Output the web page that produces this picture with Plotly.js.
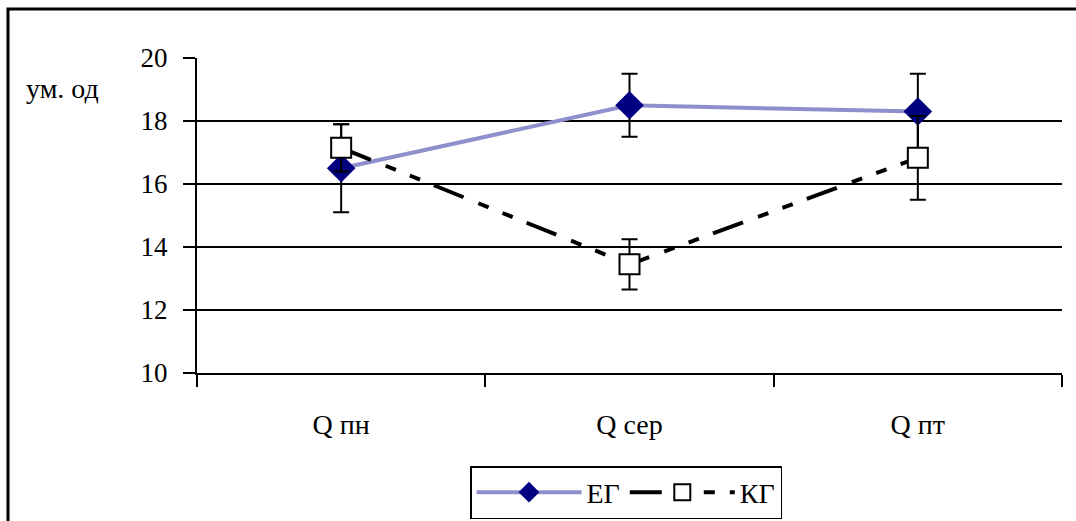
<!DOCTYPE html>
<html>
<head>
<meta charset="utf-8">
<script src="https://cdn.plot.ly/plotly-3.0.1.min.js"></script>
<style>html,body{margin:0;padding:0;background:#fff;}#chart{width:1076px;height:521px;}</style>
</head>
<body>
<div id="chart"></div>
<script>
var categories = ["Q пн", "Q сер", "Q пт"];
var egValues = [16.5, 18.5, 18.3];
var egErrors = [1.4, 1.0, 1.2];
var kgValues = [17.15, 13.45, 16.83];
var kgErrors = [0.75, 0.8, 1.33];
var yTickVals = [10, 12, 14, 16, 18, 20];

var FONTFAM = "Times New Roman";

var traces = [
  {
    x: categories, y: egValues, name: "ЕГ", type: "scatter", mode: "lines+markers",
    line: {color: "#8f8fcc", width: 4},
    marker: {symbol: "diamond", size: 22, color: "#000080", line: {width: 0}},
    error_y: {type: "data", array: egErrors, visible: true, color: "#000", thickness: 2, width: 8}
  },
  {
    x: categories, y: kgValues, name: "КГ", type: "scatter", mode: "lines+markers",
    line: {color: "#000", width: 4, dash: "32px,16px,11px,15px,11px,15px"},
    marker: {symbol: "square", size: 20, color: "#fff", line: {color: "#000", width: 2}},
    error_y: {type: "data", array: kgErrors, visible: true, color: "#000", thickness: 2, width: 8}
  }
];

var L = 197, R = 1062, T = 58, B = 373;
var pw = R - L, ph = B - T;
function px(x){ return (x - L) / pw; }
function py(y){ return (B - y) / ph; }

var layout = {
  width: 1076, height: 521,
  margin: {l: L, r: 1076 - R, t: T, b: 521 - B, pad: 0, autoexpand: false},
  paper_bgcolor: "#fff", plot_bgcolor: "#fff",
  showlegend: true,
  xaxis: {
    type: "category", tickson: "boundaries", range: [-0.5, 2.5],
    showgrid: false, showline: true, linecolor: "#000", linewidth: 2,
    ticks: "outside", ticklen: 12, tickwidth: 2, tickcolor: "#000",
    ticklabelstandoff: 25,
    tickfont: {family: FONTFAM, size: 28, color: "#000"},
    zeroline: false, fixedrange: true, automargin: false
  },
  yaxis: {
    range: [10, 20], tickvals: yTickVals, ticktext: yTickVals.map(String),
    showgrid: true, gridcolor: "#000", gridwidth: 2,
    showline: true, linecolor: "#000", linewidth: 2,
    ticks: "outside", ticklen: 12, tickwidth: 2, tickcolor: "#000",
    ticklabelstandoff: 10,
    tickfont: {family: FONTFAM, size: 27, color: "#000"},
    zeroline: false, fixedrange: true, automargin: false
  },
  legend: {
    orientation: "h", x: px(626), xanchor: "center", y: py(466), yanchor: "top",
    bgcolor: "#fff", bordercolor: "#000", borderwidth: 1.5,
    font: {family: FONTFAM, size: 28, color: "#000"},
    itemwidth: 105, tracegroupgap: 0
  },
  annotations: [
    {text: "ум. од", xref: "paper", yref: "paper", x: px(24), y: py(88),
     xanchor: "left", yanchor: "middle", showarrow: false,
     font: {family: FONTFAM, size: 28, color: "#000"}}
  ],
  shapes: [
    {type: "rect", xref: "paper", yref: "paper", x0: px(8), x1: px(1110), y0: py(560), y1: py(9),
     line: {color: "#000", width: 3}, fillcolor: "rgba(0,0,0,0)", layer: "below"}
  ]
};

Plotly.newPlot("chart", traces, layout, {staticPlot: true});
</script>
</body>
</html>
